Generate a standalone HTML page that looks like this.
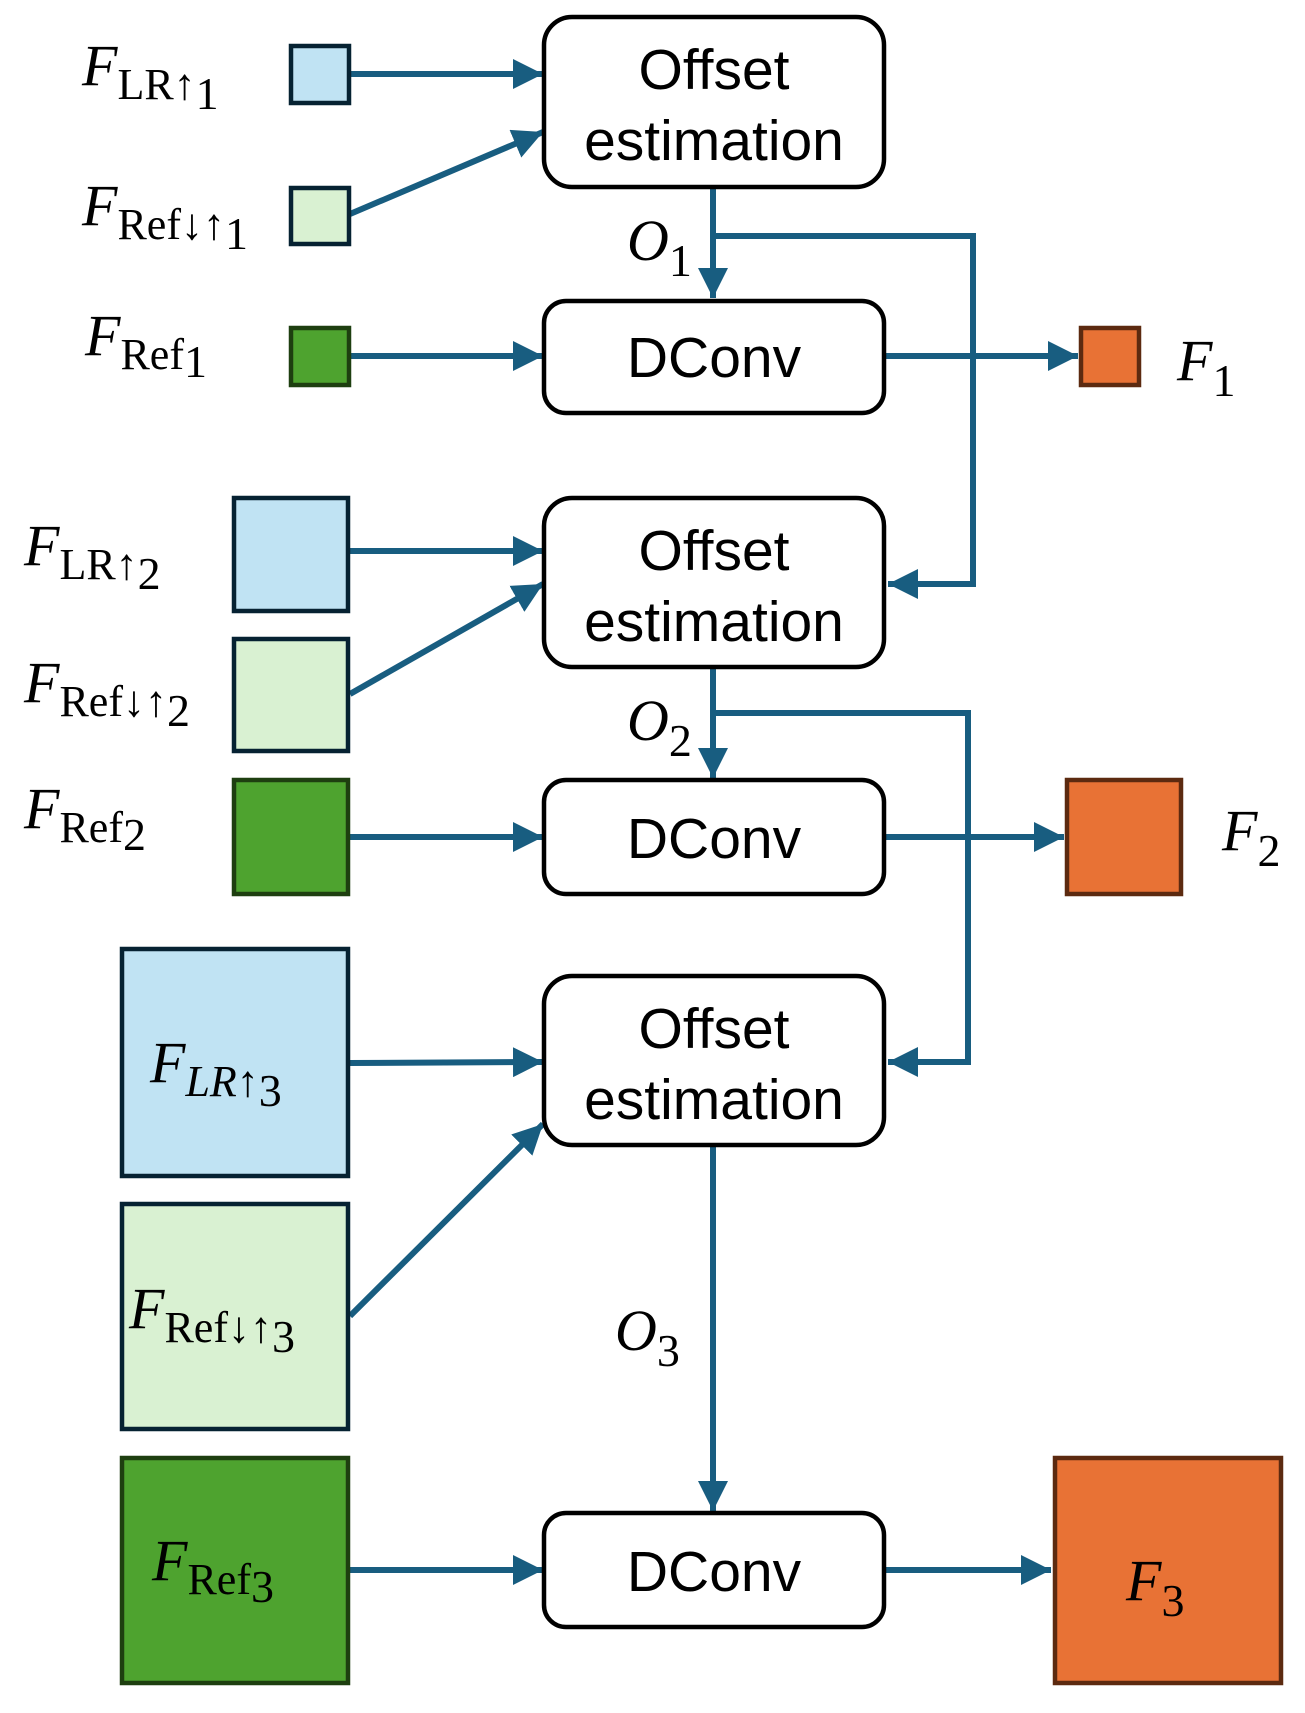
<!DOCTYPE html>
<html><head><style>
html,body{margin:0;padding:0;background:#fff;}
svg{display:block;}
.m{font-family:"Liberation Serif",serif;font-style:italic;fill:#000;}
.s{font-family:"Liberation Serif",serif;font-style:normal;}
.b{font-family:"Liberation Sans",sans-serif;fill:#000;font-size:57px;text-anchor:middle;}
</style></head><body>
<svg width="1305" height="1713" viewBox="0 0 1305 1713" xmlns="http://www.w3.org/2000/svg">
<defs>
<marker id="a" viewBox="0 0 10 10" refX="10" refY="5" markerWidth="5" markerHeight="5" orient="auto" markerUnits="strokeWidth">
<path d="M0,0 L10,5 L0,10 z" fill="#185d80"/></marker>
</defs>
<g stroke="#185d80" stroke-width="6" fill="none">
<line x1="350" y1="74" x2="543" y2="74" marker-end="url(#a)"/>
<line x1="350" y1="214" x2="543" y2="132" marker-end="url(#a)"/>
<line x1="350" y1="356" x2="543" y2="356" marker-end="url(#a)"/>
<line x1="713" y1="188" x2="713" y2="298" marker-end="url(#a)"/>
<polyline points="713,236 973,236 973,584 888,584" marker-end="url(#a)"/>
<line x1="886" y1="356" x2="1078" y2="356" marker-end="url(#a)"/>
<line x1="350" y1="551" x2="543" y2="551" marker-end="url(#a)"/>
<line x1="350" y1="694" x2="543" y2="584" marker-end="url(#a)"/>
<line x1="350" y1="837" x2="543" y2="837" marker-end="url(#a)"/>
<line x1="713" y1="667" x2="713" y2="778" marker-end="url(#a)"/>
<polyline points="713,713 968,713 968,1062 888,1062" marker-end="url(#a)"/>
<line x1="886" y1="837" x2="1064" y2="837" marker-end="url(#a)"/>
<line x1="350" y1="1063" x2="543" y2="1062" marker-end="url(#a)"/>
<line x1="350" y1="1316" x2="543" y2="1124" marker-end="url(#a)"/>
<line x1="350" y1="1570" x2="543" y2="1570" marker-end="url(#a)"/>
<line x1="713" y1="1145" x2="713" y2="1511" marker-end="url(#a)"/>
<line x1="886" y1="1570" x2="1051" y2="1570" marker-end="url(#a)"/>
</g>
<g stroke="#000" stroke-width="4.5" fill="#fff">
<rect x="544" y="17" width="340" height="170" rx="28"/>
<rect x="544" y="301" width="340" height="112" rx="22"/>
<rect x="544" y="498" width="340" height="169" rx="28"/>
<rect x="544" y="780" width="340" height="114" rx="22"/>
<rect x="544" y="976" width="340" height="169" rx="28"/>
<rect x="544" y="1513" width="340" height="114" rx="22"/>
</g>
<g stroke-width="4.5">
<rect x="291" y="46" width="58" height="57" fill="#c0e3f3" stroke="#062232"/>
<rect x="291" y="188" width="58" height="56" fill="#d9f1d2" stroke="#062232"/>
<rect x="291" y="328" width="58" height="57" fill="#4ea32f" stroke="#1e3f10"/>
<rect x="234" y="498" width="114" height="113" fill="#c0e3f3" stroke="#062232"/>
<rect x="234" y="639" width="114" height="112" fill="#d9f1d2" stroke="#062232"/>
<rect x="234" y="780" width="114" height="114" fill="#4ea32f" stroke="#1e3f10"/>
<rect x="122" y="949" width="226" height="227" fill="#c0e3f3" stroke="#062232"/>
<rect x="122" y="1204" width="226" height="225" fill="#d9f1d2" stroke="#062232"/>
<rect x="122" y="1458" width="226" height="225" fill="#4ea32f" stroke="#1e3f10"/>
<rect x="1081" y="328" width="58" height="57" fill="#e87235" stroke="#5c2a10"/>
<rect x="1067" y="780" width="114" height="114" fill="#e87235" stroke="#5c2a10"/>
<rect x="1055" y="1458" width="226" height="225" fill="#e87235" stroke="#5c2a10"/>
</g>
<g class="b">
<text x="714" y="89">Offset</text><text x="714" y="160">estimation</text>
<text x="714" y="377">DConv</text>
<text x="714" y="570">Offset</text><text x="714" y="641">estimation</text>
<text x="714" y="858">DConv</text>
<text x="714" y="1048">Offset</text><text x="714" y="1119">estimation</text>
<text x="714" y="1591">DConv</text>
</g>
<g class="m" font-size="58">
<text x="82" y="85">F<tspan class="s" font-size="44" dy="14">LR↑</tspan><tspan class="s" font-size="46" dy="10">1</tspan></text>
<text x="82" y="225">F<tspan class="s" font-size="44" dy="14">Ref↓↑</tspan><tspan class="s" font-size="46" dy="10">1</tspan></text>
<text x="85" y="355">F<tspan class="s" font-size="44" dy="14">Ref</tspan><tspan class="s" font-size="46" dy="8">1</tspan></text>
<text x="24" y="565">F<tspan class="s" font-size="44" dy="14">LR↑</tspan><tspan class="s" font-size="46" dy="10">2</tspan></text>
<text x="24" y="702">F<tspan class="s" font-size="44" dy="14">Ref↓↑</tspan><tspan class="s" font-size="46" dy="10">2</tspan></text>
<text x="24" y="828">F<tspan class="s" font-size="44" dy="14">Ref</tspan><tspan class="s" font-size="46" dy="8">2</tspan></text>
<text x="150" y="1082">F<tspan font-size="44" dy="14">LR</tspan><tspan class="s" font-size="44">↑</tspan><tspan class="s" font-size="46" dy="10">3</tspan></text>
<text x="129" y="1328">F<tspan class="s" font-size="44" dy="14">Ref↓↑</tspan><tspan class="s" font-size="46" dy="10">3</tspan></text>
<text x="152" y="1580">F<tspan class="s" font-size="44" dy="14">Ref</tspan><tspan class="s" font-size="46" dy="8">3</tspan></text>
<text x="627" y="260">O<tspan class="s" font-size="46" dy="16">1</tspan></text>
<text x="627" y="740">O<tspan class="s" font-size="46" dy="16">2</tspan></text>
<text x="615" y="1350">O<tspan class="s" font-size="46" dy="16">3</tspan></text>
<text x="1177" y="380">F<tspan class="s" font-size="46" dy="16">1</tspan></text>
<text x="1222" y="850">F<tspan class="s" font-size="46" dy="16">2</tspan></text>
<text x="1126" y="1600">F<tspan class="s" font-size="46" dy="16">3</tspan></text>
</g>
</svg>
</body></html>
